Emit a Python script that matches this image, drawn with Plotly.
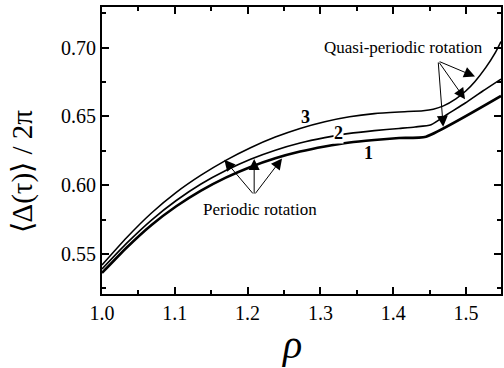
import plotly.graph_objects as go

# ---- data ----
rho_3 = [1.000, 1.034, 1.068, 1.102, 1.136, 1.170, 1.204, 1.238, 1.272, 1.306, 1.340,
         1.374, 1.408, 1.441, 1.455, 1.469, 1.486, 1.500, 1.512, 1.527, 1.540, 1.548]
delta_3 = [0.5420, 0.5620, 0.5798, 0.5948, 0.6073, 0.6181, 0.6273, 0.6350, 0.6413, 0.6462, 0.6498,
           0.6521, 0.6533, 0.6542, 0.6553, 0.6577, 0.6628, 0.6687, 0.6753, 0.6855, 0.6962, 0.7045]

rho_2 = [1.000, 1.034, 1.068, 1.102, 1.136, 1.170, 1.204, 1.238, 1.272, 1.306, 1.340,
         1.374, 1.408, 1.430, 1.452, 1.475, 1.499, 1.523, 1.548]
delta_2 = [0.5391, 0.5579, 0.5747, 0.5889, 0.6009, 0.6107, 0.6189, 0.6255, 0.6307, 0.6346, 0.6377,
           0.6397, 0.6413, 0.6424, 0.6440, 0.6518, 0.6598, 0.6685, 0.6772]

rho_1 = [1.000, 1.034, 1.068, 1.102, 1.136, 1.170, 1.204, 1.238, 1.272, 1.306, 1.340,
         1.374, 1.408, 1.445, 1.548]
delta_1 = [0.5362, 0.5547, 0.5711, 0.5847, 0.5961, 0.6055, 0.6133, 0.6196, 0.6245, 0.6282, 0.6311,
           0.6329, 0.6343, 0.6353, 0.6649]

curve_labels = ["1", "2", "3"]
label_x = [1.366, 1.325, 1.280]
label_y = [0.6232, 0.6380, 0.6498]

x_ticks = [1.0, 1.1, 1.2, 1.3, 1.4, 1.5]
x_ticklabels = ["1.0", "1.1", "1.2", "1.3", "1.4", "1.5"]
y_ticks = [0.55, 0.60, 0.65, 0.70]
y_ticklabels = ["0.55", "0.60", "0.65", "0.70"]

# annotation arrows: common origins and tips
periodic_text = "Periodic rotation"
periodic_text_pos = (1.2172, 0.5827)
periodic_origin = (1.209, 0.5929)
periodic_tips_x = [1.168, 1.209, 1.2473]
periodic_tips_y = [0.6185, 0.6190, 0.6195]

quasi_text = "Quasi-periodic rotation"
quasi_text_pos = (1.4139, 0.7005)
quasi_origin = (1.4617, 0.6903)
quasi_tips_x = [1.5123, 1.4986, 1.4686]
quasi_tips_y = [0.6790, 0.6625, 0.6425]

SERIF = "Liberation Serif, Times New Roman, serif"

fig = go.Figure()
fig.add_trace(go.Scatter(x=rho_3, y=delta_3, mode="lines",
                         line=dict(color="black", width=1.6, shape="spline", smoothing=0.6),
                         showlegend=False, hoverinfo="skip"))
fig.add_trace(go.Scatter(x=rho_2, y=delta_2, mode="lines",
                         line=dict(color="black", width=1.6, shape="spline", smoothing=0.6),
                         showlegend=False, hoverinfo="skip"))
fig.add_trace(go.Scatter(x=rho_1, y=delta_1, mode="lines",
                         line=dict(color="black", width=2.6, shape="spline", smoothing=0.5),
                         showlegend=False, hoverinfo="skip"))

annotations = []
for t, lx, ly in zip(curve_labels, label_x, label_y):
    annotations.append(dict(x=lx, y=ly, xref="x", yref="y", text="<b>%s</b>" % t,
                            showarrow=False, font=dict(family=SERIF, size=18, color="black"),
                            bgcolor="white" if t == "2" else None, borderpad=0))

for tx, ty in zip(periodic_tips_x, periodic_tips_y):
    annotations.append(dict(x=tx, y=ty, xref="x", yref="y", ax=periodic_origin[0], ay=periodic_origin[1],
                            axref="x", ayref="y", text="", showarrow=True, arrowhead=2,
                            arrowsize=2.2, arrowwidth=1, arrowcolor="black"))
for tx, ty in zip(quasi_tips_x, quasi_tips_y):
    annotations.append(dict(x=tx, y=ty, xref="x", yref="y", ax=quasi_origin[0], ay=quasi_origin[1],
                            axref="x", ayref="y", text="", showarrow=True, arrowhead=2,
                            arrowsize=2.2, arrowwidth=1, arrowcolor="black"))

annotations.append(dict(x=periodic_text_pos[0], y=periodic_text_pos[1], xref="x", yref="y",
                        text=periodic_text, showarrow=False,
                        font=dict(family=SERIF, size=17, color="black"), bgcolor="white", borderpad=0))
annotations.append(dict(x=quasi_text_pos[0], y=quasi_text_pos[1], xref="x", yref="y",
                        text=quasi_text, showarrow=False,
                        font=dict(family=SERIF, size=17, color="black"), bgcolor="white", borderpad=0))

# axis titles
annotations.append(dict(x=-0.1995, y=0.6103, xref="paper", yref="y", text="⟨Δ(τ)⟩ / 2π",
                        textangle=-90, showarrow=False, xanchor="center", yanchor="middle",
                        font=dict(family=SERIF, size=29, color="black")))
annotations.append(dict(x=1.2609, y=-0.175, xref="x", yref="paper", text="<i>ρ</i>",
                        showarrow=False, xanchor="center", yanchor="middle",
                        font=dict(family=SERIF, size=40, color="black")))

fig.update_layout(
    width=504, height=368,
    margin=dict(l=102, r=1, t=7, b=74),
    paper_bgcolor="white", plot_bgcolor="white",
    annotations=annotations,
    font=dict(family=SERIF, color="black"),
)
axis_common = dict(showgrid=False, zeroline=False, showline=True, linecolor="black", linewidth=2,
                   mirror="ticks", ticks="inside", tickwidth=1.5, tickcolor="black",
                   tickfont=dict(family=SERIF, size=20, color="black"))
fig.update_xaxes(range=[1.0, 1.548], tickvals=x_ticks, ticktext=x_ticklabels, ticklen=7,
                 minor=dict(ticks="inside", ticklen=4, dtick=0.05, tick0=1.0, tickcolor="black", tickwidth=1.5),
                 **axis_common)
fig.update_yaxes(range=[0.5209, 0.7296], tickvals=y_ticks, ticktext=y_ticklabels, ticklen=7,
                 minor=dict(ticks="inside", ticklen=4, dtick=0.025, tick0=0.5, tickcolor="black", tickwidth=1.5),
                 **axis_common)

fig.write_html("out.html")
